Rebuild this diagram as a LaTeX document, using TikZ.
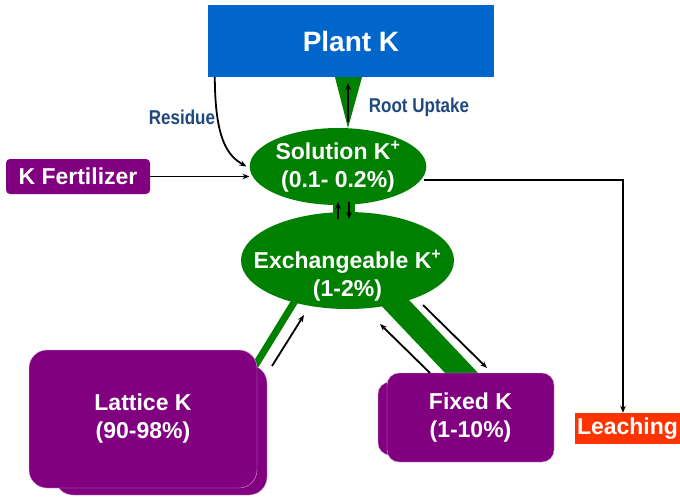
\documentclass[tikz,border=0pt]{standalone}
\usepackage{fontspec}
\setmainfont{Liberation Sans}
\newfontfamily\narrowsans[FakeStretch=0.85]{Liberation Sans}
\usetikzlibrary{shapes.geometric,arrows.meta,backgrounds}
\definecolor{plantblue}{RGB}{0,102,204}
\definecolor{soilgreen}{RGB}{0,128,0}
\definecolor{boxpurple}{RGB}{128,0,128}
\definecolor{leachred}{RGB}{255,51,0}
\definecolor{labelblue}{RGB}{31,73,125}
\tikzset{
  pooltext/.style={text=white, font=\fontsize{23}{28}\selectfont\bfseries, align=center},
  pool/.style={ellipse, fill=soilgreen, inner sep=0pt},
  mineral/.style={rectangle, fill=boxpurple, draw=boxpurple!35!white, thin, inner sep=0pt},
  flow/.style={-{Stealth[length=7pt,width=5.5pt]}, line width=1.8pt, black},
  flowlabel/.style={text=labelblue, font=\narrowsans\fontsize{20}{22}\selectfont\bfseries},
  band/.style={soilgreen}
}
\begin{document}
\begin{tikzpicture}[x=1pt, y=-1pt]
    \useasboundingbox (0,0) rectangle (680,496);
    % boxes and pools
    \node[rectangle, fill=plantblue, minimum width=286pt, minimum height=72pt, inner sep=0pt,
          text=white, font=\fontsize{28}{30}\selectfont\bfseries] (plant) at (351,41) {Plant K};
    \node[pool, minimum width=174pt, minimum height=77pt, pooltext] (sol) at (338,166.5)
          {Solution K\textsuperscript{+}\\(0.1- 0.2\%)};
    \node[pool, minimum width=213pt, minimum height=97pt] (exch) at (347.5,260.5) {};
    \node[pooltext] (exchtxt) at ([yshift=-15pt]exch.center) {Exchangeable K\textsuperscript{+}\\(1-2\%)};
    \node[rectangle, fill=boxpurple, rounded corners=4pt, minimum width=144pt, minimum height=35pt,
          inner sep=0pt, pooltext] (fert) at (78,176.5) {K Fertilizer};
    \node[rectangle, fill=leachred, minimum width=105pt, minimum height=31pt, inner sep=0pt,
          pooltext] (leach) at (627.5,428.5) {Leaching};
    \node[mineral, rounded corners=18pt, minimum width=212pt, minimum height=130pt] (latback) at (161,430) {};
    \node[mineral, rounded corners=18pt, minimum width=228pt, minimum height=138pt, pooltext] (lattice) at (143,419)
          {Lattice K\\(90-98\%)};
    \node[mineral, rounded corners=12pt, minimum width=167pt, minimum height=73pt] (fixback) at (461.5,418.5) {};
    \node[mineral, rounded corners=12pt, minimum width=167pt, minimum height=89pt, pooltext] (fixed) at (470.5,417.5)
          {Fixed K\\(1-10\%)};
    % green links behind the pools
    \begin{scope}[on background layer]
        \fill[band] ([xshift=-16pt]plant.south) -- ([xshift=11pt]plant.south) -- (348,128) -- cycle;
        \fill[band] (333,198) rectangle (355,218);
        \draw[band, line width=7pt] (298,296) -- (250,374);
        \draw[band, line width=24pt] (383,290) -- (472,384);
    \end{scope}
    % labels
    \node[flowlabel] (residue) at (182,117) {Residue};
    \node[flowlabel] (uptake) at (419,107) {Root Uptake};
    % flows
    \coordinate (resstart) at ([xshift=7pt]plant.south west);
    \coordinate (upfoot) at (348,122);
    \coordinate (uphead) at (348,83);
    \draw[flow] (resstart) .. controls (215,140) and (228,156) .. ([xshift=-3pt]sol.west);
    \draw[flow] (upfoot) -- (uphead);
    \draw[flow] (fert.east) -- (fert.east -| sol.west);
    \draw[flow] ([xshift=-3pt,yshift=-13.5pt]sol.east) -| ([xshift=-4.5pt]leach.north);
    \coordinate (neckup0) at (338,219);
    \coordinate (neckup1) at (338,202);
    \coordinate (neckdn0) at (349,202);
    \coordinate (neckdn1) at (349,219);
    \draw[flow] (neckup0) -- (neckup1);
    \draw[flow] (neckdn0) -- (neckdn1);
    \coordinate (latfoot) at (272,366);
    \coordinate (lathead) at (304,315);
    \draw[flow] (latfoot) -- (lathead);
    \coordinate (fixfoot) at (430,373);
    \coordinate (fixhead) at (380,324);
    \coordinate (fixtop) at (423,305);
    \coordinate (fixend) at (487,368);
    \draw[flow] (fixfoot) -- (fixhead);
    \draw[flow] (fixtop) -- (fixend);
\end{tikzpicture}
\end{document}
